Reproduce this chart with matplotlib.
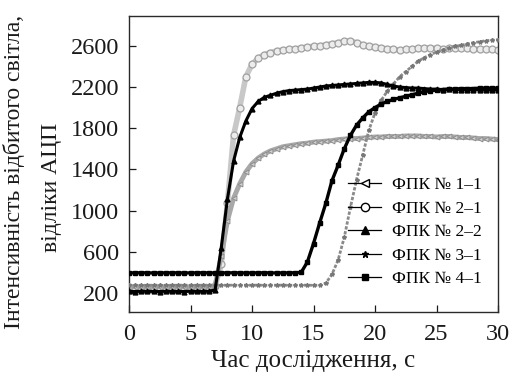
import numpy as np
import matplotlib
matplotlib.use("Agg")
import matplotlib.pyplot as plt
from matplotlib.lines import Line2D

plt.rcParams['font.family'] = ['Liberation Serif', 'DejaVu Serif']

# Sampling time, s
t = np.arange(0, 30.5, 0.5)

fpk_1_1 = [258, 262, 260, 259, 261, 260, 262, 258, 260, 261, 259, 260, 262, 260,
           270, 560, 900, 1120, 1260, 1375, 1455, 1510, 1550, 1580, 1600, 1620,
           1630, 1640, 1650, 1655, 1665, 1670, 1675, 1680, 1690, 1695, 1700, 1700,
           1705, 1710, 1715, 1715, 1720, 1720, 1720, 1725, 1725, 1725, 1720, 1720,
           1715, 1720, 1720, 1715, 1710, 1710, 1705, 1700, 1700, 1695, 1690]

fpk_2_1 = [250, 248, 252, 250, 249, 251, 250, 252, 248, 250, 251, 249, 250, 252,
           270, 480, 1070, 1730, 2000, 2300, 2420, 2480, 2515, 2535, 2550, 2560,
           2565, 2570, 2580, 2590, 2595, 2600, 2610, 2620, 2630, 2645, 2650, 2630,
           2610, 2600, 2590, 2580, 2570, 2565, 2560, 2565, 2570, 2575, 2580, 2580,
           2575, 2570, 2575, 2580, 2580, 2575, 2570, 2570, 2565, 2565, 2560]

fpk_2_2 = [215, 214, 216, 215, 215, 214, 216, 215, 215, 214, 216, 215, 215, 216,
           230, 640, 1110, 1480, 1710, 1870, 1990, 2060, 2100, 2120, 2140, 2155,
           2165, 2170, 2175, 2180, 2190, 2200, 2210, 2215, 2220, 2225, 2230, 2235,
           2240, 2245, 2245, 2240, 2225, 2210, 2200, 2195, 2190, 2190, 2185, 2180,
           2180, 2175, 2180, 2175, 2175, 2170, 2175, 2170, 2170, 2170, 2170]

fpk_3_1 = [275, 276, 274, 275, 275, 276, 274, 275, 275, 276, 274, 275, 275, 276,
           274, 275, 275, 276, 274, 275, 275, 276, 274, 275, 275, 276, 274, 275,
           275, 276, 274, 275,
           295, 380, 520, 740, 1030, 1300, 1540, 1780, 1950, 2070, 2160, 2230,
           2300, 2350, 2400, 2450, 2485, 2515, 2540, 2560, 2580, 2595, 2605, 2620,
           2630, 2640, 2650, 2655, 2660]

fpk_4_1 = [395, 395, 396, 395, 394, 395, 395, 396, 395, 394, 395, 395, 396, 395,
           394, 395, 395, 396, 395, 394, 395, 395, 396, 395, 394, 395, 395, 396,
           400, 500, 680, 880, 1070, 1290, 1440, 1600, 1730, 1830, 1900, 1960,
           2000, 2035, 2060, 2080, 2095, 2110, 2125, 2140, 2155, 2165, 2170, 2175,
           2180, 2180, 2185, 2185, 2185, 2190, 2190, 2190, 2190]

labels = ['ФПК № 1–1', 'ФПК № 2–1', 'ФПК № 2–2', 'ФПК № 3–1', 'ФПК № 4–1']
xticks = [0, 5, 10, 15, 20, 25, 30]
yticks = [200, 600, 1000, 1400, 1800, 2200, 2600]

fig = plt.figure(figsize=(5.14, 3.79), dpi=100)
ax = fig.add_axes([129 / 514, 1 - 312 / 379, (498 - 129) / 514, (312 - 16) / 379])

# grey series (drawn first, underneath)
ax.plot(t, fpk_2_1, color='#c8c8c8', lw=4.0, marker='o', ms=5,
        mfc='#ececec', mec='#a0a0a0', mew=0.9, zorder=2)
ax.plot(t, fpk_1_1, color='#a8a8a8', lw=3.5, marker='<', ms=3.5,
        mfc='#d0d0d0', mec='#8e8e8e', mew=0.7, zorder=2)
ax.plot(t, fpk_3_1, color='#8a8a8a', lw=2.0, ls=(0, (1.2, 0.6)), marker='*', ms=3,
        mfc='#777777', mec='#777777', zorder=3)
# black series
ax.plot(t, fpk_2_2, color='black', lw=2.2, marker='^', ms=3.5,
        mfc='black', mec='black', zorder=4)
ax.plot(t, fpk_4_1, color='black', lw=2.4, marker='s', ms=2.2,
        mfc='black', mec='black', zorder=4)

ax.set_xlim(0, 30)
ax.set_ylim(15, 2890)
ax.set_xticks(xticks)
ax.set_yticks(yticks)
ax.tick_params(direction='in', length=5, width=0.9, labelsize=17.5, pad=7,
               colors='#1a1a1a')
ax.tick_params(axis='x', pad=9)
for s in ax.spines.values():
    s.set_linewidth(1.0)
    s.set_color('#2a2a2a')

ax.set_xlabel('Час дослідження, с', fontsize=18, labelpad=3, color='#1a1a1a')
fig.text(14 / 514, 1 - 172 / 379, 'Інтенсивність відбитого світла,', rotation=90,
         ha='center', va='center', fontsize=17, color='#1a1a1a')
fig.text(52 / 514, 1 - 187 / 379, 'відліки АЦП', rotation=90,
         ha='center', va='center', fontsize=17, color='#1a1a1a')

handles = [
    Line2D([], [], color='black', lw=0.9, marker='<', ms=6, mfc='white', mec='black'),
    Line2D([], [], color='black', lw=0.9, marker='o', ms=6, mfc='white', mec='black'),
    Line2D([], [], color='black', lw=0.9, marker='^', ms=6, mfc='black', mec='black'),
    Line2D([], [], color='black', lw=0.9, marker='*', ms=4.5, mfc='black', mec='black'),
    Line2D([], [], color='black', lw=0.9, marker='s', ms=4.5, mfc='black', mec='black'),
]
ax.legend(handles, labels, loc='upper left', bbox_to_anchor=(0.594, 0.455),
          frameon=False, fontsize=12.5, handlelength=1.9, handletextpad=0.6,
          labelspacing=0.42, borderaxespad=0, borderpad=0)

fig.savefig('out.png', dpi=100)
